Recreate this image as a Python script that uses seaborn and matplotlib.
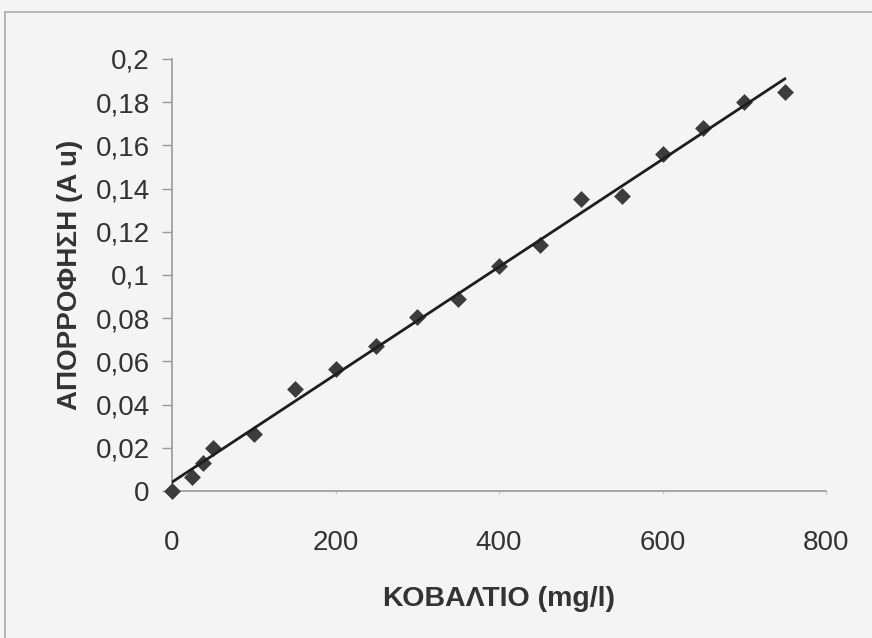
import numpy as np
import pandas as pd
import matplotlib
matplotlib.use("Agg")
import matplotlib.pyplot as plt
from matplotlib.ticker import FuncFormatter, MultipleLocator
from matplotlib.patches import Rectangle
import seaborn as sns

cobalt = [0, 25, 37.5, 50, 100, 150, 200, 250, 300, 350, 400, 450, 500, 550, 600, 650, 700, 750]
absorb = [0.0, 0.0064, 0.0131, 0.0198, 0.0262, 0.047, 0.0565, 0.067, 0.0804, 0.0889,
          0.1043, 0.1139, 0.135, 0.1367, 0.156, 0.168, 0.180, 0.1846]
xlabel = "ΚΟΒΑΛΤΙΟ (mg/l)"
ylabel = "ΑΠΟΡΡΟΦΗΣΗ (A u)"

df = pd.DataFrame({"x": cobalt, "y": absorb})
slope, intercept = np.polyfit(df["x"], df["y"], 1)
fit = pd.DataFrame({"x": [min(cobalt), max(cobalt)]})
fit["y"] = intercept + slope * fit["x"]

sns.set_theme(style="white")
plt.rcParams["font.family"] = ["Liberation Sans", "DejaVu Sans"]
bg = "#f4f4f4"
fig = plt.figure(figsize=(8.72, 6.38), dpi=100, facecolor=bg)
ax = fig.add_axes([172/872, 1 - 491/638, (826-172)/872, (491-59)/638])
ax.set_facecolor(bg)

sns.scatterplot(data=df, x="x", y="y", marker="D", s=65, color="#3c3c3c",
                edgecolor="#3c3c3c", linewidth=0.5, ax=ax, zorder=3, clip_on=False)
sns.lineplot(data=fit, x="x", y="y", color="#1e1e1e", linewidth=2.0, ax=ax, zorder=4)

ax.set_xlim(0, 800)
ax.set_ylim(0, 0.2)
ax.xaxis.set_major_locator(MultipleLocator(200))
ax.yaxis.set_major_locator(MultipleLocator(0.02))
fmt = FuncFormatter(lambda v, p: ("%g" % round(v, 4)).replace(".", ","))
ax.yaxis.set_major_formatter(fmt)
ax.xaxis.set_major_formatter(fmt)

for s in ["top", "right"]:
    ax.spines[s].set_visible(False)
for s in ["left", "bottom"]:
    ax.spines[s].set_color("#999999")
    ax.spines[s].set_linewidth(1.2)
ax.tick_params(axis="y", direction="out", length=7, width=1, color="#999999",
               labelsize=20, labelcolor="#333333", pad=9, left=True)
ax.tick_params(axis="x", direction="out", length=2, width=1, color="#cccccc",
               labelsize=20, labelcolor="#333333", pad=26, bottom=True)

ax.set_xlabel(xlabel, fontsize=20.5, fontweight="bold", color="#333333", labelpad=22)
ax.set_ylabel(ylabel, fontsize=20, fontweight="bold", color="#333333", labelpad=9)

fig.patches.append(Rectangle((5/872, -0.1), 1.2, 1 - 12/638 + 0.1, transform=fig.transFigure,
                             fill=False, edgecolor="#aaaaaa", linewidth=1.2))

fig.savefig("out.png", dpi=100, facecolor=bg)
